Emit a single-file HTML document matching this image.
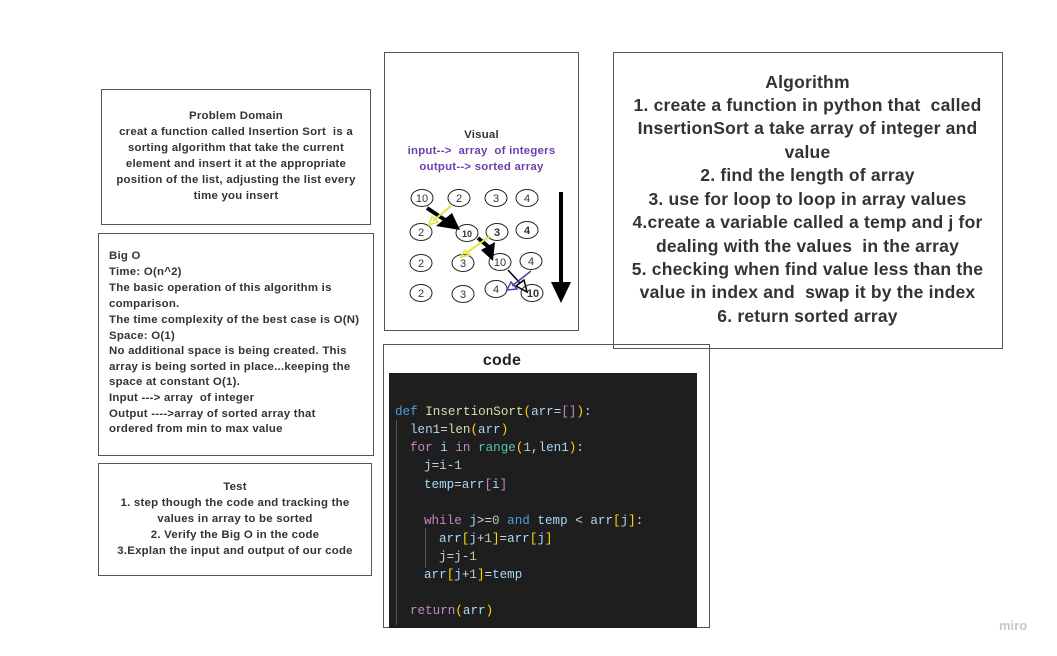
<!DOCTYPE html>
<html><head><meta charset="utf-8"><style>
body{margin:0;width:1057px;height:656px;background:#fff;position:relative;overflow:hidden;font-family:"Liberation Sans",sans-serif;color:#333}
.b{position:absolute;border:1px solid #555;box-sizing:border-box}
.t{position:absolute;white-space:nowrap;font-weight:bold;font-size:11.4px;line-height:14px;letter-spacing:0.25px}
.c{text-align:center}
.a{font-size:17.5px;line-height:22px;left:613px;width:389px;text-align:center;letter-spacing:0.2px}
.code{position:absolute;left:389px;top:373px;width:308px;height:255px;background:#1e1e1e}
.cl{position:absolute;font-family:"Liberation Mono",monospace;font-size:12.6px;line-height:16px;white-space:pre;color:#a8d8f8}
.k{color:#569cd6}.p{color:#c586c0}.f{color:#dcdcaa}.y{color:#ffd700}.n{color:#b5cea8}.g{color:#4ec9b0}.w{color:#d4d4d4}
</style></head><body>
<div class="b" style="left:101px;top:89px;width:270px;height:136px"></div>
<div class="t c" style="left:101px;width:270px;top:109px">Problem Domain</div>
<div class="t c" style="left:101px;width:270px;top:125px">creat a function called Insertion Sort &nbsp;is a</div>
<div class="t c" style="left:101px;width:270px;top:141px">sorting algorithm that take the current</div>
<div class="t c" style="left:101px;width:270px;top:157px">element and insert it at the appropriate</div>
<div class="t c" style="left:101px;width:270px;top:173px">position of the list, adjusting the list every</div>
<div class="t c" style="left:101px;width:270px;top:189px">time you insert</div>

<div class="b" style="left:98px;top:233px;width:276px;height:223px"></div>
<div class="t" style="left:109px;top:249px">Big O</div>
<div class="t" style="left:109px;top:265px">Time: O(n^2)</div>
<div class="t" style="left:109px;top:281px">The basic operation of this algorithm is</div>
<div class="t" style="left:109px;top:297px">comparison.</div>
<div class="t" style="left:109px;top:313px">The time complexity of the best case is O(N)</div>
<div class="t" style="left:109px;top:329px">Space: O(1)</div>
<div class="t" style="left:109px;top:344px">No additional space is being created. This</div>
<div class="t" style="left:109px;top:360px">array is being sorted in place...keeping the</div>
<div class="t" style="left:109px;top:375px">space at constant O(1).</div>
<div class="t" style="left:109px;top:391px">Input ---&gt; array &nbsp;of integer</div>
<div class="t" style="left:109px;top:407px">Output ----&gt;array of sorted array that</div>
<div class="t" style="left:109px;top:422px">ordered from min to max value</div>

<div class="b" style="left:98px;top:463px;width:274px;height:113px"></div>
<div class="t c" style="left:98px;width:274px;top:480px">Test</div>
<div class="t c" style="left:98px;width:274px;top:496px">1. step though the code and tracking the</div>
<div class="t c" style="left:98px;width:274px;top:512px">values in array to be sorted</div>
<div class="t c" style="left:98px;width:274px;top:528px">2. Verify the Big O in the code</div>
<div class="t c" style="left:98px;width:274px;top:544px">3.Explan the input and output of our code</div>

<div class="b" style="left:384px;top:52px;width:195px;height:279px"></div>
<div class="t c" style="left:384px;width:195px;top:128px">Visual</div>
<div class="t c" style="left:384px;width:195px;top:144px;color:#6a3fb0">input--&gt; &nbsp;array &nbsp;of integers</div>
<div class="t c" style="left:384px;width:195px;top:160px;color:#6a3fb0">output--&gt; sorted array</div>
<svg style="position:absolute;left:0;top:0" width="1057" height="656" font-family="Liberation Sans" font-size="11" text-anchor="middle">
<g fill="none" stroke="#222" stroke-width="1">
<ellipse cx="422" cy="198" rx="11" ry="8.5"/><ellipse cx="459" cy="198" rx="11" ry="8.5"/><ellipse cx="496" cy="198" rx="11" ry="8.5"/><ellipse cx="527" cy="198" rx="11" ry="8.5"/>
<ellipse cx="421" cy="232" rx="11" ry="8.5"/><ellipse cx="467" cy="233" rx="11" ry="8.5"/><ellipse cx="497" cy="232" rx="11" ry="8.5"/><ellipse cx="527" cy="230" rx="11" ry="8.5"/>
<ellipse cx="421" cy="263" rx="11" ry="8.5"/><ellipse cx="463" cy="263" rx="11" ry="8.5"/><ellipse cx="500" cy="262" rx="11" ry="8.5"/><ellipse cx="531" cy="261" rx="11" ry="8.5"/>
<ellipse cx="421" cy="293" rx="11" ry="8.5"/><ellipse cx="463" cy="294" rx="11" ry="8.5"/><ellipse cx="496" cy="289" rx="11" ry="8.5"/><ellipse cx="532" cy="293" rx="11" ry="8.5"/>
</g>
<g fill="#333">
<text x="422" y="202">10</text><text x="459" y="202">2</text><text x="496" y="202">3</text><text x="527" y="202">4</text>
<text x="421" y="236">2</text><text x="467" y="237" font-weight="bold" font-size="9">10</text><text x="497" y="236" font-weight="bold">3</text><text x="527" y="234" font-weight="bold">4</text>
<text x="421" y="267">2</text><text x="463" y="267">3</text><text x="500" y="266">10</text><text x="531" y="265">4</text>
<text x="421" y="297">2</text><text x="463" y="298">3</text><text x="496" y="293">4</text><text x="533" y="297" font-weight="bold">10</text>
</g>
<line x1="427" y1="208" x2="445" y2="220" stroke="#000" stroke-width="4"/>
<polygon points="436,226 452,213 460,230" fill="#000"/>
<line x1="451" y1="206" x2="433" y2="221" stroke="#e8e040" stroke-width="2"/>
<polygon points="429,225 432,216 438,222" fill="none" stroke="#e8e040" stroke-width="1.5"/>
<line x1="478" y1="238" x2="490" y2="248" stroke="#000" stroke-width="4"/>
<polygon points="481,250 495,242 493,261" fill="#000"/>
<line x1="490" y1="236" x2="465" y2="254" stroke="#e8e040" stroke-width="2"/>
<polygon points="461,257 465,250 470,255" fill="none" stroke="#e8e040" stroke-width="1.5"/>
<line x1="508" y1="270" x2="520" y2="283" stroke="#000" stroke-width="1.5"/>
<polygon points="516,286 524,280 527,292" fill="none" stroke="#000" stroke-width="1.5"/>
<line x1="531" y1="271" x2="512" y2="286" stroke="#44449a" stroke-width="1.5"/>
<polygon points="507,290 511,282 517,289" fill="none" stroke="#44449a" stroke-width="1.5"/>
<line x1="561" y1="192" x2="561" y2="284" stroke="#000" stroke-width="4"/>
<polygon points="551,282 571,282 561,303" fill="#000"/>
</svg>

<div class="b" style="left:613px;top:52px;width:390px;height:297px"></div>
<div class="t a" style="top:71px">Algorithm</div>
<div class="t a" style="top:94px">1. create a function in python that &nbsp;called</div>
<div class="t a" style="top:117px">InsertionSort a take array of integer and</div>
<div class="t a" style="top:141px">value</div>
<div class="t a" style="top:164px">2. find the length of array</div>
<div class="t a" style="top:188px">3. use for loop to loop in array values</div>
<div class="t a" style="top:211px">4.create a variable called a temp and j for</div>
<div class="t a" style="top:235px">dealing with the values &nbsp;in the array</div>
<div class="t a" style="top:258px">5. checking when find value less than the</div>
<div class="t a" style="top:281px">value in index and &nbsp;swap it by the index</div>
<div class="t a" style="top:305px">6. return sorted array</div>

<div class="b" style="left:383px;top:344px;width:327px;height:284px"></div>
<div class="t c" style="left:383px;width:238px;top:351px;font-size:16px;line-height:20px;color:#222">code</div>
<div class="code"></div>
<div style="position:absolute;left:396px;top:420px;width:1px;height:205px;background:#555"></div>
<div style="position:absolute;left:425px;top:528px;width:1px;height:40px;background:#555"></div>
<div class="cl" style="left:395px;top:404px"><span class="k">def</span> <span class="f">InsertionSort</span><span class="y">(</span>arr<span class="w">=</span><span class="p">[]</span><span class="y">)</span><span class="w">:</span></div>
<div class="cl" style="left:410px;top:422px">len1<span class="w">=</span><span class="f">len</span><span class="y">(</span>arr<span class="y">)</span></div>
<div class="cl" style="left:410px;top:440px"><span class="p">for</span> i <span class="p">in</span> <span class="g">range</span><span class="y">(</span><span class="n">1</span><span class="w">,</span>len1<span class="y">)</span><span class="w">:</span></div>
<div class="cl" style="left:424px;top:458px">j<span class="w">=</span>i<span class="w">-</span><span class="n">1</span></div>
<div class="cl" style="left:424px;top:477px">temp<span class="w">=</span>arr<span class="p">[</span>i<span class="p">]</span></div>
<div class="cl" style="left:424px;top:513px"><span class="p">while</span> j<span class="w">&gt;=</span><span class="n">0</span> <span class="k">and</span> temp <span class="w">&lt;</span> arr<span class="y">[</span>j<span class="y">]</span><span class="w">:</span></div>
<div class="cl" style="left:439px;top:531px">arr<span class="y">[</span>j<span class="w">+</span><span class="n">1</span><span class="y">]</span><span class="w">=</span>arr<span class="y">[</span>j<span class="y">]</span></div>
<div class="cl" style="left:439px;top:549px">j<span class="w">=</span>j<span class="w">-</span><span class="n">1</span></div>
<div class="cl" style="left:424px;top:567px">arr<span class="y">[</span>j<span class="w">+</span><span class="n">1</span><span class="y">]</span><span class="w">=</span>temp</div>
<div class="cl" style="left:410px;top:603px"><span class="p">return</span><span class="y">(</span>arr<span class="y">)</span></div>

<div style="position:absolute;left:999px;top:618px;font-size:13px;color:#c8c8c8;font-weight:bold">miro</div>
</body></html>
